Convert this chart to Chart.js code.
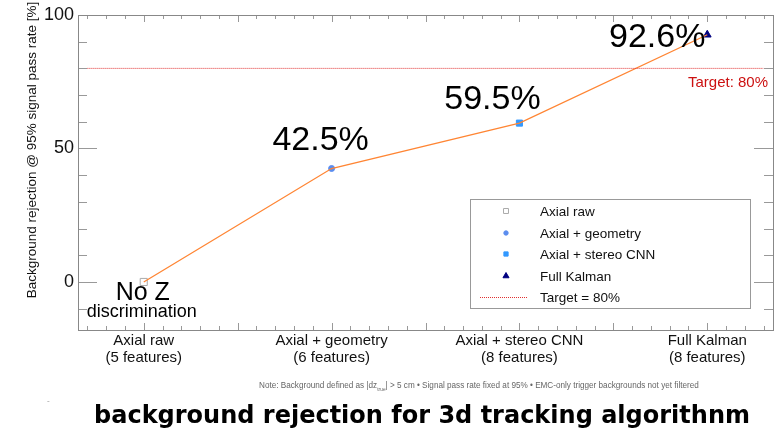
<!DOCTYPE html>
<html>
<head>
<meta charset="utf-8">
<style>
  html, body { margin: 0; padding: 0; background: #fff; }
  #wrap { width: 779px; height: 435px; }
</style>
<script src="https://cdn.jsdelivr.net/npm/chart.js@4.4.0/dist/chart.umd.min.js"></script>
</head>
<body>
<div id="wrap"><canvas id="chart" width="779" height="435"></canvas></div>
<script>
// Réjection du bruit de fond à 95 % d'efficacité signal, par variante d'algorithme
const categories = [
  ['Axial raw', '(5 features)'],
  ['Axial + geometry', '(6 features)'],
  ['Axial + stereo CNN', '(8 features)'],
  ['Full Kalman', '(8 features)'],
];
const seriesNames = ['Axial raw', 'Axial + geometry', 'Axial + stereo CNN', 'Full Kalman'];
const rejection = [0, 42.5, 59.5, 92.6];
const valueLabels = ['', '42.5%', '59.5%', '92.6%'];
const target = 80;
const yTickLabels = [0, 50, 100];

const FONT = '"Liberation Sans", Arial, sans-serif';
const RED = '#e03030';

const markerStyles = [
  { pointStyle: 'rect', radius: 5, bg: '#ffffff', border: '#aaaaaa' },
  { pointStyle: 'circle', radius: 3, bg: '#5b8def', border: '#5b8def' },
  { pointStyle: 'rect', radius: 4.3, bg: '#3399ff', border: '#3399ff' },
  { pointStyle: 'triangle', radius: 4.5, bg: '#000080', border: '#000080' },
];

const pointDatasets = seriesNames.map((name, i) => ({
  label: name,
  data: [{ x: i, y: rejection[i] }],
  pointStyle: markerStyles[i].pointStyle,
  pointRadius: markerStyles[i].radius,
  pointBackgroundColor: markerStyles[i].bg,
  pointBorderColor: markerStyles[i].border,
  pointBorderWidth: 1,
  showLine: false,
}));

const frame = {
  id: 'frame',
  beforeDatasetsDraw(chart) {
    const { ctx, chartArea: a, scales: { x, y } } = chart;
    ctx.save();
    ctx.strokeStyle = '#999';
    ctx.lineWidth = 1;
    ctx.beginPath();
    // ticks verticaux (gauche / droite)
    for (let v = -10; v <= 100; v += 10) {
      const py = Math.round(y.getPixelForValue(v)) + 0.5;
      const len = v % 50 === 0 ? 19 : 9;
      ctx.moveTo(a.left, py); ctx.lineTo(a.left + len, py);
      ctx.moveTo(a.right, py); ctx.lineTo(a.right - len, py);
    }
    // ticks horizontaux (haut / bas)
    for (let k = -3; k <= 33; k++) {
      const px = Math.round(x.getPixelForValue(k / 10)) + 0.5;
      const len = k % 5 === 0 ? 7 : 4;
      ctx.moveTo(px, a.bottom); ctx.lineTo(px, a.bottom - len);
      ctx.moveTo(px, a.top); ctx.lineTo(px, a.top + len);
    }
    ctx.stroke();
    ctx.strokeStyle = '#888';
    ctx.strokeRect(Math.round(a.left) + 0.5, Math.round(a.top) + 0.5,
      Math.round(a.right - a.left), Math.round(a.bottom - a.top));
    ctx.restore();
  },
  afterDatasetsDraw(chart) {
    const { ctx, scales: { x, y } } = chart;
    ctx.save();
    ctx.textAlign = 'center';
    ctx.textBaseline = 'middle';
    ctx.fillStyle = '#000';

    // étiquettes en %
    const offsets = [[0, 0], [-11, -28], [-27, -23], [-50, 3]];
    ctx.font = '34px ' + FONT;
    valueLabels.forEach((t, i) => {
      if (!t) return;
      ctx.fillText(t, x.getPixelForValue(i) + offsets[i][0], y.getPixelForValue(rejection[i]) + offsets[i][1]);
    });
    const x0 = x.getPixelForValue(0), y0 = y.getPixelForValue(rejection[0]);
    ctx.font = '25px ' + FONT;
    ctx.fillText('No Z', x0 - 1, y0 + 11);
    ctx.font = '18px ' + FONT;
    ctx.fillText('discrimination', x0 - 2, y0 + 30);

    // cible
    ctx.fillStyle = '#cc1111';
    ctx.font = '15px ' + FONT;
    ctx.textAlign = 'right';
    ctx.fillText('Target: 80%', 768, y.getPixelForValue(target) + 14);

    // titre de l'axe y
    ctx.save();
    ctx.translate(32, 150);
    ctx.rotate(-Math.PI / 2);
    ctx.textAlign = 'center';
    ctx.fillStyle = '#111';
    ctx.font = '13.5px ' + FONT;
    ctx.fillText('Background rejection @ 95% signal pass rate [%]', 0, 0);
    ctx.restore();

    // légende
    const lx = 470, ly = 199, lw = 280, lh = 109;
    ctx.fillStyle = '#fff';
    ctx.fillRect(lx, ly, lw, lh);
    ctx.strokeStyle = '#999';
    ctx.lineWidth = 1;
    ctx.strokeRect(lx + 0.5, ly + 0.5, lw, lh);
    const rows = [211, 233, 254, 276, 297];
    const legendRadius = [3.5, 2.2, 3, 3.5];
    ctx.textAlign = 'left';
    ctx.font = '13.5px ' + FONT;
    seriesNames.forEach((name, i) => {
      const m = markerStyles[i];
      ctx.save();
      ctx.fillStyle = m.bg;
      ctx.strokeStyle = m.border;
      ctx.lineWidth = 1;
      Chart.helpers.drawPoint(ctx, { pointStyle: m.pointStyle, radius: legendRadius[i], borderWidth: 1 }, 506, rows[i]);
      ctx.restore();
      ctx.fillStyle = '#111';
      ctx.fillText(name, 540, rows[i] + 1);
    });
    ctx.fillStyle = RED;
    for (let px = 480; px < 528; px += 2) ctx.fillRect(px, rows[4], 1, 1);
    ctx.fillStyle = '#111';
    ctx.fillText('Target = 80%', 540, rows[4] + 1);
    ctx.restore();
  },
  afterDraw(chart) {
    const { ctx } = chart;
    ctx.save();
    ctx.textBaseline = 'alphabetic';
    ctx.fillStyle = '#666';
    const part1 = 'Note: Background defined as |dz';
    const sub = 'true';
    const part2 = '| > 5 cm \u2022 Signal pass rate fixed at 95% \u2022 EMC-only trigger backgrounds not yet filtered';
    // taille ajustée pour occuper la même largeur que l'original
    ctx.font = '10px ' + FONT;
    const w10 = ctx.measureText(part1 + part2).width + ctx.measureText(sub).width * 0.6;
    const fs = 10 * 441 / w10;
    let px = 259;
    const by = 388;
    ctx.font = fs + 'px ' + FONT;
    ctx.fillText(part1, px, by);
    px += ctx.measureText(part1).width;
    ctx.font = (fs * 0.6) + 'px ' + FONT;
    ctx.fillText(sub, px, by + 3);
    px += ctx.measureText(sub).width;
    ctx.font = fs + 'px ' + FONT;
    ctx.fillText(part2, px, by);

    ctx.fillStyle = '#aaa';
    ctx.fillText('-', 47, 404);

    ctx.fillStyle = '#000';
    ctx.textAlign = 'center';
    ctx.font = 'bold 24px "DejaVu Sans", sans-serif';
    ctx.fillText('background rejection for 3d tracking algorithnm', 422, 423);
    ctx.restore();
  },
};

new Chart(document.getElementById('chart').getContext('2d'), {
  type: 'scatter',
  data: {
    datasets: [
      {
        label: 'Target = 80%',
        data: [{ x: -0.3, y: target }, { x: 3.3, y: target }],
        showLine: true,
        borderColor: RED,
        borderWidth: 1,
        borderDash: [1, 1],
        pointRadius: 0,
      },
      {
        label: 'trend',
        data: rejection.map((v, i) => ({ x: i, y: v })),
        showLine: true,
        borderColor: '#ff8533',
        borderWidth: 1.3,
        pointRadius: 0,
      },
      ...pointDatasets,
    ],
  },
  options: {
    responsive: false,
    animation: false,
    layout: { padding: { top: 15, right: 5, bottom: 55, left: 0 } },
    plugins: { legend: { display: false }, tooltip: { enabled: false } },
    scales: {
      x: {
        type: 'linear',
        min: -0.35,
        max: 3.35,
        grid: { display: false, drawTicks: false },
        border: { display: false },
        afterBuildTicks: (s) => { s.ticks = categories.map((_, i) => ({ value: i })); },
        afterFit: (s) => { s.height = 50; },
        ticks: {
          padding: 3,
          maxRotation: 0,
          autoSkip: false,
          color: '#111',
          font: { family: FONT, size: 15, lineHeight: 1.1 },
          callback: (v) => categories[Math.round(v)],
        },
      },
      y: {
        min: -18,
        max: 100,
        grid: { display: false, drawTicks: false },
        border: { display: false },
        afterBuildTicks: (s) => { s.ticks = yTickLabels.map((v) => ({ value: v })); },
        afterFit: (s) => { s.width = 78; },
        ticks: {
          padding: 4,
          color: '#111',
          font: { family: FONT, size: 18 },
        },
      },
    },
  },
  plugins: [frame],
});
</script>
</body>
</html>
